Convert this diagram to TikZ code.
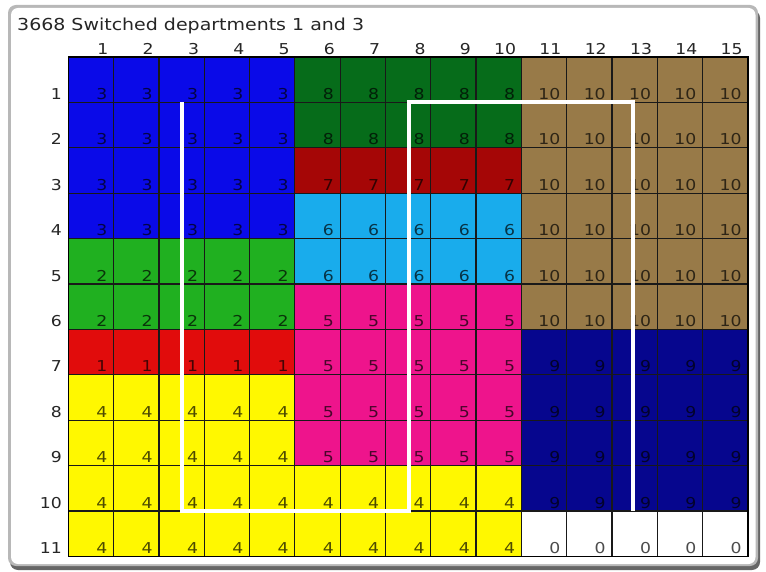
\documentclass[tikz,border=0pt]{standalone}
\usepackage{fontspec}
\setmainfont{DejaVu Sans}[FakeStretch=1.15]
\definecolor{d0}{RGB}{255,255,255}
\definecolor{d1}{RGB}{225,12,12}
\definecolor{d2}{RGB}{32,176,32}
\definecolor{d3}{RGB}{10,10,232}
\definecolor{d4}{RGB}{255,248,0}
\definecolor{d5}{RGB}{238,20,140}
\definecolor{d6}{RGB}{25,172,236}
\definecolor{d7}{RGB}{165,6,6}
\definecolor{d8}{RGB}{6,108,26}
\definecolor{d9}{RGB}{6,6,142}
\definecolor{d10}{RGB}{152,122,72}
\tikzset{
  numlabel/.style={anchor=base east, inner sep=0pt, font=\fontsize{15}{15}\selectfont},
  axislabel/.style={anchor=base east, inner sep=0pt, font=\fontsize{15}{15}\selectfont, text=black!85},
  gridline/.style={draw=black!90, line width=1.2pt},
  route/.style={draw=white, line width=4pt, line join=miter, line cap=butt}
}
\begin{document}
\begin{tikzpicture}[x=1pt,y=-1pt]
\useasboundingbox (0,0) rectangle (766,572);
\fill[white] (0,0) rectangle (766,572);
% window frame
\fill[black!60, rounded corners=8pt] (10,10) rectangle (760,570);
\fill[black!28, rounded corners=8pt] (8,5) rectangle (758,566);
\fill[white, rounded corners=7pt] (11,8) rectangle (755.5,564);
\node[anchor=base west, inner sep=0pt, font=\fontsize{16.5}{16.5}\selectfont, text=black!85] (title) at (17,30.5) {3668 Switched departments 1 and 3};
\begin{scope}[shift={(68.3,57)}, x=45.3pt, y=-45.4pt]
\foreach \rowvals [count=\r] in {
  {3,3,3,3,3,8,8,8,8,8,10,10,10,10,10},
  {3,3,3,3,3,8,8,8,8,8,10,10,10,10,10},
  {3,3,3,3,3,7,7,7,7,7,10,10,10,10,10},
  {3,3,3,3,3,6,6,6,6,6,10,10,10,10,10},
  {2,2,2,2,2,6,6,6,6,6,10,10,10,10,10},
  {2,2,2,2,2,5,5,5,5,5,10,10,10,10,10},
  {1,1,1,1,1,5,5,5,5,5,9,9,9,9,9},
  {4,4,4,4,4,5,5,5,5,5,9,9,9,9,9},
  {4,4,4,4,4,5,5,5,5,5,9,9,9,9,9},
  {4,4,4,4,4,4,4,4,4,4,9,9,9,9,9},
  {4,4,4,4,4,4,4,4,4,4,0,0,0,0,0}} {
  \foreach \d [count=\c] in \rowvals {
    \fill[d\d] (\c-1,\r-1) rectangle (\c,\r);
    \node[numlabel, text=d\d!30!black, xshift=-6pt, yshift=3pt] (n\r-\c) at (\c,\r) {\d};
  }
  \node[axislabel, xshift=-6.3pt, yshift=3pt] (row\r) at (0,\r) {\r};
}
\foreach \c in {1,...,15} {
  \node[axislabel, xshift=-5pt, yshift=2.5pt] (col\c) at (\c,0) {\c};
}
\foreach \c in {1,...,14} { \draw[gridline] (\c,0) -- (\c,11); }
\foreach \r in {1,...,10} { \draw[gridline] (0,\r) -- (15,\r); }
\draw[draw=black, line width=1.5pt] (0,0) rectangle (15,11);
% route
\coordinate (p1) at (2.5,1);
\coordinate (p2) at (2.5,10);
\coordinate (p3) at (7.52,10);
\coordinate (p4) at (7.52,1);
\coordinate (p5) at (12.47,1);
\coordinate (p6) at (12.47,10);
\draw[route] (p1) -- (p2) -- (p3) -- (p4) -- (p5) -- (p6);
\end{scope}
\end{tikzpicture}
\end{document}
